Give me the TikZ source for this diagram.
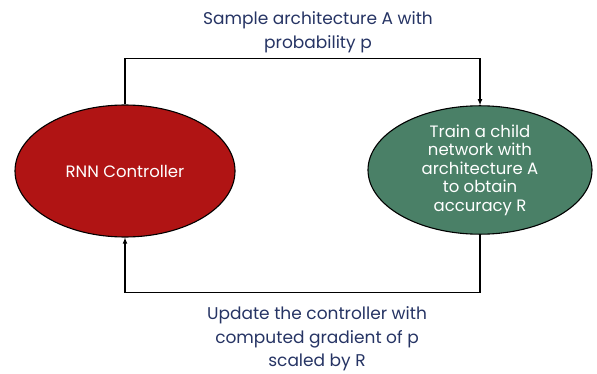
\documentclass[tikz,border=0pt]{standalone}
\usepackage{fontspec}
\setmainfont{Poppins}
\usetikzlibrary{shapes.geometric}
\definecolor{ctrlred}{RGB}{176,20,20}
\definecolor{childgreen}{RGB}{74,128,103}
\definecolor{labelblue}{RGB}{38,52,100}
\begin{document}
\begin{tikzpicture}[x=1pt,y=1pt,
  blob/.style={ellipse,draw=black,line width=1.1pt,inner sep=0pt,text=white,align=center,font=\fontsize{16.5}{18.5}\selectfont},
  flow/.style={line width=1.1pt,-latex},
  lbl/.style={text=labelblue,align=center,font=\fontsize{17}{23.5}\selectfont}]
\useasboundingbox (0,0) rectangle (597,373);

\node[blob,fill=ctrlred,minimum width=220pt,minimum height=132pt] (ctrl) at (125,202) {RNN Controller};
\node[blob,fill=childgreen,minimum width=224pt,minimum height=128pt] (child) at (480,203)
  {Train a child\\network with\\architecture A\\to obtain\\accuracy R};

\draw[flow] (ctrl.north) -- ++(0,46) -| (child.north);
\draw[flow] (child.south) -- ++(0,-58) -| (ctrl.south);

\node[lbl] (sample) at (318,341) {Sample architecture A with\\probability p};
\node[lbl] (update) at (317,34) {Update the controller with\\computed gradient of p\\scaled by R};
\end{tikzpicture}
\end{document}
